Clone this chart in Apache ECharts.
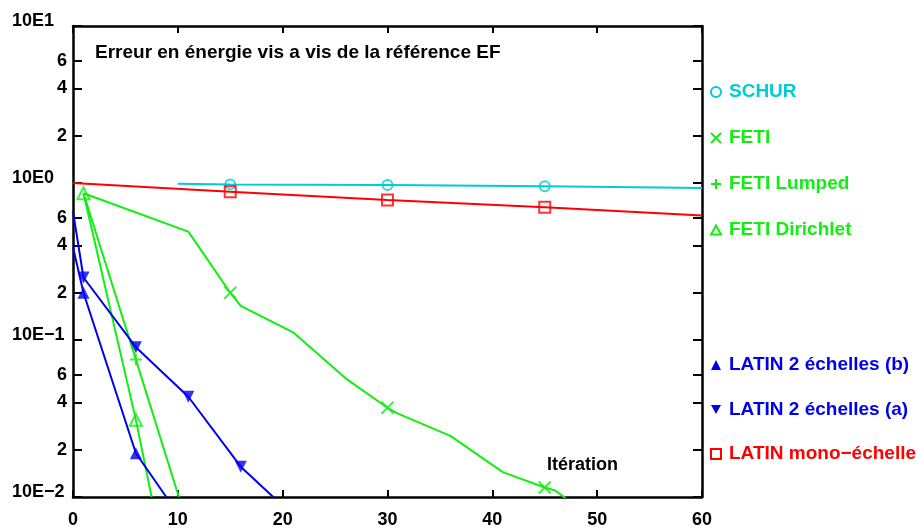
<!DOCTYPE html>
<html>
<head>
<meta charset="utf-8">
<script src="https://cdn.jsdelivr.net/npm/echarts@6/dist/echarts.min.js"></script>
<style>
html, body { margin: 0; padding: 0; background: #fff; }
#chart { width: 919px; height: 531px; }
</style>
</head>
<body>
<div id="chart"></div>
<script>
// axes
var decadeTicks = [0.01, 0.1, 1, 10];
var decadeLabels = ['10E\u22122', '10E\u22121', '10E0', '10E1'];
var minorTicks = [0.02, 0.04, 0.06, 0.2, 0.4, 0.6, 2, 4, 6];
var minorLabels = ['2', '4', '6', '2', '4', '6', '2', '4', '6'];

// courbes (iteration, erreur)
var schurLine = [[10, 0.99], [15, 0.98], [30, 0.97], [45, 0.955], [60, 0.93]];
var schurMarks = [[15, 0.98], [30, 0.97], [45, 0.955]];

var monoLine = [[0, 1.0], [15, 0.88], [30, 0.78], [45, 0.70], [60, 0.62]];
var monoMarks = [[15, 0.88], [30, 0.78], [45, 0.70]];

var fetiLine = [[1, 0.86], [11, 0.49], [15, 0.2], [16, 0.165], [21, 0.112], [26, 0.057], [30, 0.037],
	[31, 0.034], [36, 0.0245], [41, 0.0144], [45, 0.0115], [46, 0.011], [47, 0.0098]];
var fetiMarks = [[15, 0.2], [30, 0.037], [45, 0.0115]];

var lumpedLine = [[1, 0.86], [6, 0.075], [10.1, 0.01]];
var lumpedMarks = [[6, 0.075]];

var dirichletLine = [[1, 0.86], [6, 0.031], [7.5, 0.01]];
var dirichletMarks = [[1, 0.86], [6, 0.031]];

var latinALine = [[0, 0.66], [1, 0.25], [6, 0.09], [11, 0.0435], [16, 0.0156], [19.1, 0.01]];
var latinAMarks = [[1, 0.25], [6, 0.09], [11, 0.0435], [16, 0.0156]];

var latinBLine = [[0, 0.39], [1, 0.2], [6, 0.019], [8.9, 0.01]];
var latinBMarks = [[1, 0.2], [6, 0.019]];

var CYAN = '#00ccd4', GREEN = '#11ee11', BLUE = '#0000f0', RED = '#ff0000';
var FONT = "'Liberation Sans', Arial, sans-serif";

var P_CROSS = 'path://M0,0L10,10M10,0L0,10';
var P_PLUS = 'path://M5,0L5,10M0,5L10,5';
var P_TRI = 'path://M5,0L10,9L0,9Z';
var P_TRI_DOWN = 'path://M0,0L10,0L5,9Z';

function nearestLabel(value, ticks, labels) {
	var best = 0;
	for (var i = 1; i < ticks.length; i++) {
		if (Math.abs(Math.log(ticks[i] / value)) < Math.abs(Math.log(ticks[best] / value))) best = i;
	}
	return labels[best];
}

function lineSerie(name, data, color) {
	return {
		name : name,
		type : 'line',
		data : data,
		showSymbol : false,
		symbol : 'none',
		lineStyle : { color : color, width : 2 },
		itemStyle : { color : color },
		z : 2
	};
}

function markSerie(name, data, symbol, color, size, filled) {
	return {
		name : name,
		type : 'scatter',
		data : data,
		symbol : symbol,
		symbolSize : size,
		itemStyle : filled ? { color : color, borderWidth : 0 }
			: { color : 'transparent', borderColor : color, borderWidth : 2 },
		z : 3
	};
}

function legendItem(name, icon, color, filled) {
	return {
		name : name,
		icon : icon,
		itemStyle : filled ? { color : color, borderWidth : 0 }
			: { color : 'transparent', borderColor : color, borderWidth : 2 },
		textStyle : { color : color }
	};
}

var legendText = { fontFamily : FONT, fontWeight : 'bold', fontSize : 19, lineHeight : 20, padding : [0, 0, 0, 3] };

var option = {
	animation : false,
	backgroundColor : '#fff',
	title : {
		text : 'Erreur en \u00e9nergie vis a vis de la r\u00e9f\u00e9rence EF',
		left : 95,
		top : 43,
		padding : 0,
		textStyle : { fontFamily : FONT, fontWeight : 'bold', fontSize : 19, color : '#000' }
	},
	grid : { left : 73, right : 217, top : 26, bottom : 34 },
	legend : [ {
		orient : 'vertical',
		left : 710,
		top : 82,
		padding : 0,
		itemWidth : 10,
		itemHeight : 10,
		itemGap : 26,
		selectedMode : false,
		textStyle : legendText,
		data : [
			legendItem('SCHUR', 'circle', CYAN, false),
			legendItem('FETI', P_CROSS, GREEN, false),
			legendItem('FETI Lumped', P_PLUS, GREEN, false),
			legendItem('FETI Dirichlet', P_TRI, GREEN, false)
		]
	}, {
		orient : 'vertical',
		left : 710,
		top : 355,
		padding : 0,
		itemWidth : 10,
		itemHeight : 10,
		itemGap : 24.5,
		selectedMode : false,
		textStyle : legendText,
		data : [
			legendItem('LATIN 2 \u00e9chelles (b)', 'triangle', BLUE, true),
			legendItem('LATIN 2 \u00e9chelles (a)', P_TRI_DOWN, BLUE, true),
			legendItem('LATIN mono\u2212\u00e9chelle', 'rect', RED, false)
		]
	} ],
	xAxis : [ {
		type : 'value',
		position : 'bottom',
		min : 0,
		max : 60,
		interval : 10,
		axisLine : { lineStyle : { color : '#000', width : 2.5 } },
		axisTick : { inside : true, length : 7, lineStyle : { color : '#000', width : 2 } },
		axisLabel : { color : '#000', fontFamily : FONT, fontWeight : 'bold', fontSize : 18, margin : 14 },
		splitLine : { show : false }
	}, {
		type : 'value',
		position : 'top',
		min : 0,
		max : 60,
		interval : 10,
		axisLine : { lineStyle : { color : '#000', width : 2.5 } },
		axisTick : { inside : true, length : 7, lineStyle : { color : '#000', width : 2 } },
		axisLabel : { show : false },
		splitLine : { show : false }
	} ],
	yAxis : [ {
		type : 'log',
		logBase : 10,
		position : 'left',
		min : 0.01,
		max : 10,
		axisLine : { lineStyle : { color : '#000', width : 2.5 } },
		axisTick : { inside : true, length : 9, lineStyle : { color : '#000', width : 2 },
			customValues : decadeTicks.concat(minorTicks) },
		axisLabel : {
			customValues : decadeTicks,
			// libelle decale vers le haut par une ligne vide
			formatter : function(v) { return '{d|' + nearestLabel(v, decadeTicks, decadeLabels) + '}\n{s| }'; },
			align : 'left',
			margin : 61,
			rich : {
				d : { color : '#000', fontFamily : FONT, fontWeight : 'bold', fontSize : 18, lineHeight : 20 },
				s : { fontSize : 1, lineHeight : 10 }
			}
		},
		splitLine : { show : false }
	}, {
		type : 'log',
		logBase : 10,
		position : 'left',
		min : 0.01,
		max : 10,
		axisLine : { show : false },
		axisTick : { show : false },
		axisLabel : {
			customValues : minorTicks,
			formatter : function(v) { return nearestLabel(v, minorTicks, minorLabels); },
			margin : 6,
			color : '#000', fontFamily : FONT, fontWeight : 'bold', fontSize : 18
		},
		splitLine : { show : false }
	}, {
		type : 'log',
		logBase : 10,
		position : 'right',
		min : 0.01,
		max : 10,
		axisLine : { lineStyle : { color : '#000', width : 2.5 } },
		axisTick : { inside : true, length : 9, lineStyle : { color : '#000', width : 2 },
			customValues : decadeTicks.concat(minorTicks) },
		axisLabel : { show : false },
		splitLine : { show : false }
	} ],
	graphic : [ {
		type : 'text',
		left : 547,
		top : 456,
		style : { text : 'It\u00e9ration', fill : '#000', font : 'bold 18px ' + FONT }
	} ],
	series : [
		lineSerie('SCHUR', schurLine, CYAN),
		lineSerie('LATIN mono\u2212\u00e9chelle', monoLine, RED),
		lineSerie('FETI', fetiLine, GREEN),
		lineSerie('FETI Lumped', lumpedLine, GREEN),
		lineSerie('FETI Dirichlet', dirichletLine, GREEN),
		lineSerie('LATIN 2 \u00e9chelles (a)', latinALine, BLUE),
		lineSerie('LATIN 2 \u00e9chelles (b)', latinBLine, BLUE),
		markSerie('SCHUR', schurMarks, 'circle', CYAN, 10, false),
		markSerie('LATIN mono\u2212\u00e9chelle', monoMarks, 'rect', RED, 11, false),
		markSerie('FETI', fetiMarks, P_CROSS, GREEN, 12, false),
		markSerie('FETI Lumped', lumpedMarks, P_PLUS, GREEN, 12, false),
		markSerie('FETI Dirichlet', dirichletMarks, P_TRI, GREEN, 12, false),
		markSerie('LATIN 2 \u00e9chelles (a)', latinAMarks, 'triangle', BLUE, 12, true),
		markSerie('LATIN 2 \u00e9chelles (b)', latinBMarks, 'triangle', BLUE, 12, true)
	]
};
// triangle pointe en bas pour (a)
option.series[12].symbolRotate = 180;

var dom = document.getElementById('chart');
var myChart = echarts.init(dom);
myChart.setOption(option, true);
</script>
</body>
</html>
